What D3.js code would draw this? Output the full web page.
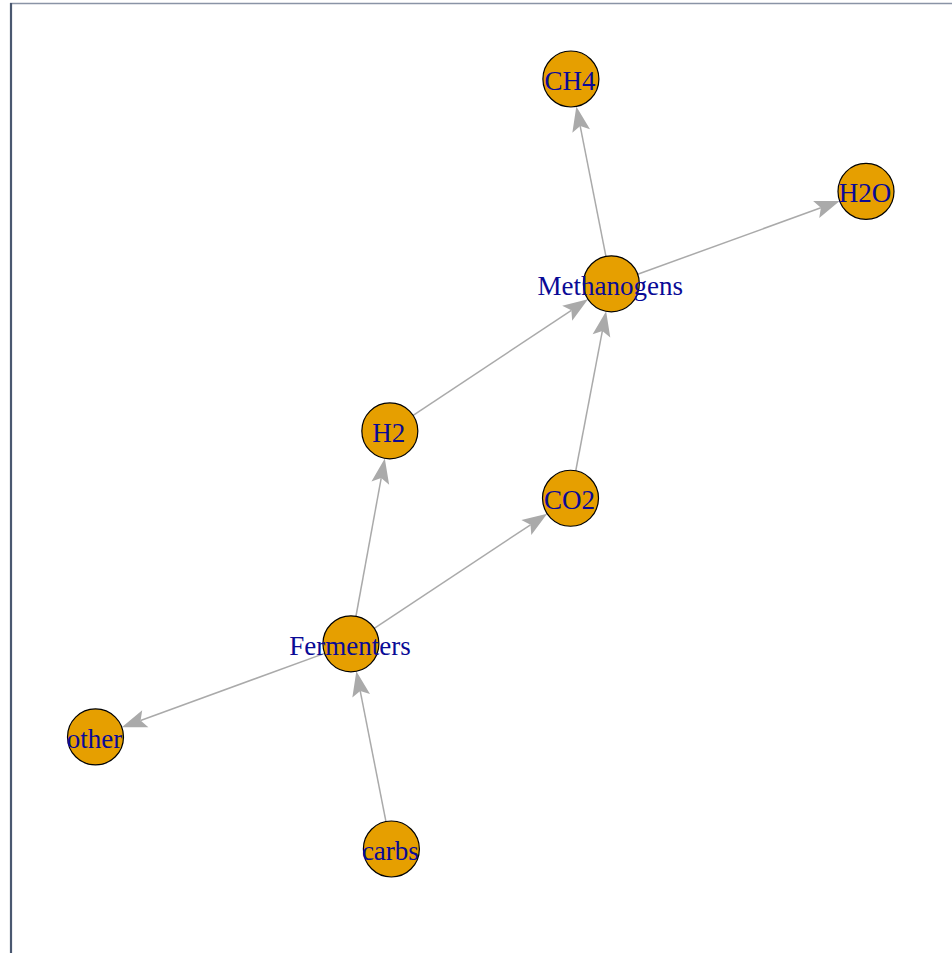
<!DOCTYPE html>
<html>
<head>
<meta charset="utf-8">
<script src="https://cdn.jsdelivr.net/npm/d3@7"></script>
<style>
html,body{margin:0;padding:0;background:#fff;}
svg{display:block;}
</style>
</head>
<body>
<svg id="chart" width="952" height="953"></svg>
<script>
// Node names and layout coordinates (igraph-style, rescaled to [-1, 1])
const nodeNames = ["CH4", "H2O", "Methanogens", "H2", "CO2", "Fermenters", "other", "carbs"];
const layoutX   = [0.234, 1.0, 0.339, -0.236, 0.233, -0.337, -1.0, -0.232];
const layoutY   = [1.0, 0.708, 0.468, 0.086, -0.089, -0.467, -0.709, -1.0];
// Directed edges
const edgeFrom = ["carbs", "Fermenters", "Fermenters", "Fermenters", "H2", "CO2", "Methanogens", "Methanogens"];
const edgeTo   = ["Fermenters", "other", "H2", "CO2", "Methanogens", "Methanogens", "CH4", "H2O"];

const svg = d3.select("#chart");
const W = 952, H = 953;

// frame
svg.append("line").attr("x1", 10).attr("y1", 3.5).attr("x2", W).attr("y2", 3.5)
  .attr("stroke", "#8a94a6").attr("stroke-width", 1.4);
svg.append("line").attr("x1", 11).attr("y1", 3).attr("x2", 11).attr("y2", H)
  .attr("stroke", "#4a5870").attr("stroke-width", 2.2);

const x = d3.scaleLinear().domain([-1, 1]).range([95.5, 866]);
const y = d3.scaleLinear().domain([-1, 1]).range([849, 79]);

const nodes = nodeNames.map((n, i) => ({ name: n, x: x(layoutX[i]), y: y(layoutY[i]) }));
const byName = Object.fromEntries(nodes.map(n => [n.name, n]));
const edges = edgeFrom.map((f, i) => ({ s: byName[f], t: byName[edgeTo[i]] }));

const R = 28;
const edgeColor = "#aaaaaa";
const arrowLen = 25, arrowHalf = 9, notch = 5;

const gEdges = svg.append("g");
edges.forEach(e => {
  const dx = e.t.x - e.s.x, dy = e.t.y - e.s.y;
  const L = Math.hypot(dx, dy);
  const ux = dx / L, uy = dy / L;
  const px = -uy, py = ux;
  const sx = e.s.x + ux * R, sy = e.s.y + uy * R;
  const tipx = e.t.x - ux * R, tipy = e.t.y - uy * R;
  const bx = tipx - ux * arrowLen, by = tipy - uy * arrowLen;
  gEdges.append("line")
    .attr("x1", sx).attr("y1", sy)
    .attr("x2", bx + ux * notch).attr("y2", by + uy * notch)
    .attr("stroke", edgeColor).attr("stroke-width", 1.5);
  const pts = [
    [tipx, tipy],
    [bx + px * arrowHalf, by + py * arrowHalf],
    [bx + ux * notch, by + uy * notch],
    [bx - px * arrowHalf, by - py * arrowHalf]
  ];
  gEdges.append("path")
    .attr("d", d3.line()(pts) + "Z")
    .attr("fill", edgeColor).attr("stroke", "none");
});

const gNodes = svg.append("g");
gNodes.selectAll("circle").data(nodes).join("circle")
  .attr("cx", d => d.x).attr("cy", d => d.y).attr("r", R)
  .attr("fill", "#E69F00").attr("stroke", "#000").attr("stroke-width", 1.2);

gNodes.selectAll("text").data(nodes).join("text")
  .attr("x", d => d.x - 1).attr("y", d => d.y + 11)
  .attr("text-anchor", "middle")
  .attr("font-family", "'Liberation Serif', 'Times New Roman', serif")
  .attr("font-size", 27)
  .attr("fill", "#0a0a96")
  .text(d => d.name);
</script>
</body>
</html>
